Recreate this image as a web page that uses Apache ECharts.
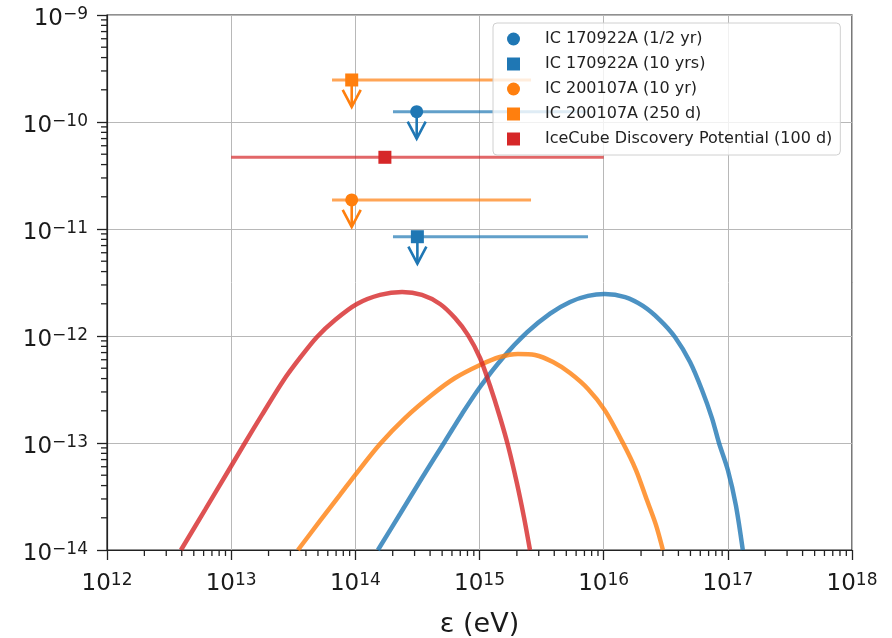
<!DOCTYPE html>
<html><head><meta charset="utf-8">
<script src="https://cdn.jsdelivr.net/npm/echarts@6/dist/echarts.min.js"></script>
<style>html,body{margin:0;padding:0;background:#fff}#c{width:892px;height:638px}</style>
</head><body><div id="c"></div>
<script>
// ---- axis ranges / ticks ----
const xTickValues = [1e12, 1e13, 1e14, 1e15, 1e16, 1e17, 1e18];
const yTickValues = [1e-14, 1e-13, 1e-12, 1e-11, 1e-10, 1e-9];

// ---- model curves [energy eV, flux] ----
const blueCurve = [[1.52e14,1e-14],[2.29e14,2.17e-14],[3.44e14,4.71e-14],[5.28e14,1.04e-13],[7.23e14,1.87e-13],[1.01e15,3.34e-13],[1.55e15,6.30e-13],[2.41e15,1.08e-12],[3.70e15,1.62e-12],[5.36e15,2.08e-12],[7.48e15,2.37e-12],[1.02e16,2.47e-12],[1.49e16,2.31e-12],[2.07e16,1.91e-12],[2.84e16,1.41e-12],[3.75e16,9.79e-13],[4.96e16,5.71e-13],[6.19e16,3.13e-13],[7.45e16,1.71e-13],[8.49e16,1.0e-13],[1.0e17,5.59e-14],[1.16e17,2.63e-14],[1.32e17,1e-14]];
const orangeCurve = [[3.45e13,1e-14],[5.19e13,1.87e-14],[7.52e13,3.27e-14],[1.01e14,5.13e-14],[1.58e14,9.79e-14],[2.51e14,1.71e-13],[4.22e14,2.87e-13],[6.35e14,4.05e-13],[1.01e15,5.36e-13],[1.46e15,6.36e-13],[2.04e15,6.79e-13],[2.80e15,6.64e-13],[3.91e15,5.71e-13],[5.36e15,4.51e-13],[7.48e15,3.20e-13],[1.02e16,2.03e-13],[1.43e16,1.0e-13],[1.82e16,5.59e-14],[2.23e16,2.93e-14],[2.64e16,1.71e-14],[3.00e16,1e-14]];
const redCurve = [[3.94e12,1e-14],[6.16e12,2.37e-14],[9.79e12,5.84e-14],[1.29e13,1.0e-13],[1.77e13,1.83e-13],[2.62e13,3.80e-13],[3.58e13,6.23e-13],[4.91e13,9.79e-13],[6.86e13,1.41e-12],[1.03e14,1.99e-12],[1.58e14,2.42e-12],[2.38e14,2.58e-12],[3.44e14,2.42e-12],[4.81e14,1.99e-12],[6.35e14,1.47e-12],[8.08e14,1.02e-12],[1.01e15,6.23e-13],[1.21e15,3.48e-13],[1.46e15,1.75e-13],[1.70e15,9.38e-14],[2.00e15,4.23e-14],[2.28e15,2.03e-14],[2.55e15,1e-14]];

// ---- upper limits / points ----
const ulNames  = ['IC 170922A (1/2 yr)','IC 170922A (10 yrs)','IC 200107A (10 yr)','IC 200107A (250 d)','IceCube Discovery Potential (100 d)'];
const ulEnergy = [3.12e14, 3.16e14, 9.35e13, 9.35e13, 1.73e14];
const ulFlux   = [1.25e-10, 8.47e-12, 1.87e-11, 2.47e-10, 4.68e-11];
const ulLow    = [2.01e14, 2.01e14, 6.49e13, 6.49e13, 1.0e13];
const ulHigh   = [7.48e15, 7.48e15, 2.60e15, 2.60e15, 1.0e16];
const ulIsLimit= [true, true, true, true, false];
const ulSymbol = ['circle','rect','circle','rect','rect'];
const ulColorIdx = [0, 0, 1, 1, 2];

const colors = ['#1f77b4', '#ff7f0e', '#d62728'];
const X_MIN = 1e12, X_MAX = 1e18, Y_MIN = 1e-14, Y_MAX = 1e-9;

const xMinor = [], yMinor = [];
for (let k = 12; k < 18; k++) for (let m = 2; m <= 9; m++) xMinor.push(m * Math.pow(10, k));
for (let k = -14; k < -9; k++) for (let m = 2; m <= 9; m++) yMinor.push(m * Math.pow(10, k));

function powLabel(v) {
  const e = Math.round(Math.log10(v));
  const s = e < 0 ? '\u2212' + (-e) : '' + e;
  return '{b|10}{s|' + s + '}';
}
const richLab = {
  b: {fontSize: 23, lineHeight: 24, verticalAlign: 'bottom', fontFamily: 'DejaVu Sans', color: '#1a1a1a'},
  s: {fontSize: 17, lineHeight: 17, verticalAlign: 'top', fontFamily: 'DejaVu Sans', color: '#1a1a1a'}
};

const series = [];
[blueCurve, orangeCurve, redCurve].forEach((d, i) => {
  series.push({type: 'line', name: 'curve' + i, data: d, smooth: 0.3, showSymbol: false, symbol: 'none', silent: true, z: 2,
    lineStyle: {color: colors[i], width: 4.5, opacity: 0.8}});
});
ulNames.forEach((n, i) => {
  series.push({type: 'line', name: 'bar' + i, data: [[ulLow[i], ulFlux[i]], [ulHigh[i], ulFlux[i]]], symbol: 'none', silent: true, z: 3,
    lineStyle: {color: colors[ulColorIdx[i]], width: 3, opacity: 0.7}});
});
series.push({
  type: 'custom', name: 'arrows', coordinateSystem: 'cartesian2d', silent: true, z: 4, clip: false,
  data: ulNames.map((n, i) => [ulEnergy[i], ulFlux[i], ulColorIdx[i]]).filter((d, i) => ulIsLimit[i]),
  renderItem: (params, api) => {
    const p = api.coord([api.value(0), api.value(1)]);
    const c = colors[api.value(2)];
    return {type: 'group', children: [
      {type: 'line', shape: {x1: p[0], y1: p[1], x2: p[0], y2: p[1] + 27}, style: {stroke: c, lineWidth: 2.6}},
      {type: 'polyline', shape: {points: [[p[0] - 9, p[1] + 10], [p[0], p[1] + 27], [p[0] + 9, p[1] + 10]]}, style: {stroke: c, lineWidth: 2.6, fill: null}}
    ]};
  }
});
ulNames.forEach((n, i) => {
  series.push({type: 'scatter', name: n, data: [[ulEnergy[i], ulFlux[i]]], symbol: ulSymbol[i], symbolSize: 13, z: 5, silent: true,
    itemStyle: {color: colors[ulColorIdx[i]], opacity: 1}});
});
series.push({
  type: 'custom', name: 'xminor', coordinateSystem: 'cartesian2d', silent: true, z: 10, clip: false,
  data: xMinor.map(v => [v, Y_MIN]),
  renderItem: (params, api) => {
    const p = api.coord([api.value(0), api.value(1)]);
    return {type: 'line', shape: {x1: p[0], y1: p[1], x2: p[0], y2: p[1] + 6}, style: {stroke: '#222', lineWidth: 1.3}};
  }
});
series.push({
  type: 'custom', name: 'yminor', coordinateSystem: 'cartesian2d', silent: true, z: 10, clip: false,
  data: yMinor.map(v => [X_MIN, v]),
  renderItem: (params, api) => {
    const p = api.coord([api.value(0), api.value(1)]);
    return {type: 'line', shape: {x1: p[0] - 6, y1: p[1], x2: p[0], y2: p[1]}, style: {stroke: '#222', lineWidth: 1.3}};
  }
});

const chart = echarts.init(document.getElementById('c'), null, {renderer: 'canvas'});
chart.setOption({
  backgroundColor: '#fff',
  animation: false,
  grid: {left: 107, right: 40, top: 15, bottom: 88, show: true, borderColor: '#222', borderWidth: 1.2, backgroundColor: 'transparent', containLabel: false, outerBoundsMode: 'none'},
  legend: {
    left: 493, top: 23, orient: 'vertical', padding: [8, 8, 8, 14],
    itemWidth: 13, itemHeight: 13, itemGap: 9,
    backgroundColor: 'rgba(255,255,255,0.8)', borderColor: '#d0d0d0', borderWidth: 1, borderRadius: 4,
    textStyle: {fontSize: 16, lineHeight: 16, fontFamily: 'DejaVu Sans', color: '#222', padding: [0, 0, 0, 20]},
    data: ulNames.map((n, i) => ({name: n, icon: ulSymbol[i]})),
    selectedMode: false
  },
  xAxis: {
    type: 'log', logBase: 10, min: X_MIN, max: X_MAX, splitNumber: 6,
    name: '\u03b5 (eV)', nameLocation: 'middle', nameGap: 61,
    nameTextStyle: {fontSize: 27, fontFamily: 'DejaVu Sans', color: '#1a1a1a'},
    axisLine: {show: true, lineStyle: {color: '#222', width: 1.2}},
    axisTick: {show: true, inside: false, length: 10, lineStyle: {color: '#222', width: 1.3}},
    axisLabel: {margin: 22, formatter: powLabel, rich: richLab},
    splitLine: {show: true, lineStyle: {color: '#b8b8b8', width: 1}},
    minorTick: {show: false}
  },
  yAxis: {
    type: 'log', logBase: 10, min: Y_MIN, max: Y_MAX, splitNumber: 5,
    axisLine: {show: true, lineStyle: {color: '#222', width: 1.2}},
    axisTick: {show: true, inside: false, length: 10, lineStyle: {color: '#222', width: 1.3}},
    axisLabel: {margin: 19, formatter: powLabel, rich: richLab, padding: [7, 0, 0, 0]},
    splitLine: {show: true, lineStyle: {color: '#b8b8b8', width: 1}},
    minorTick: {show: false}
  },
  series: series
});
</script></body></html>
